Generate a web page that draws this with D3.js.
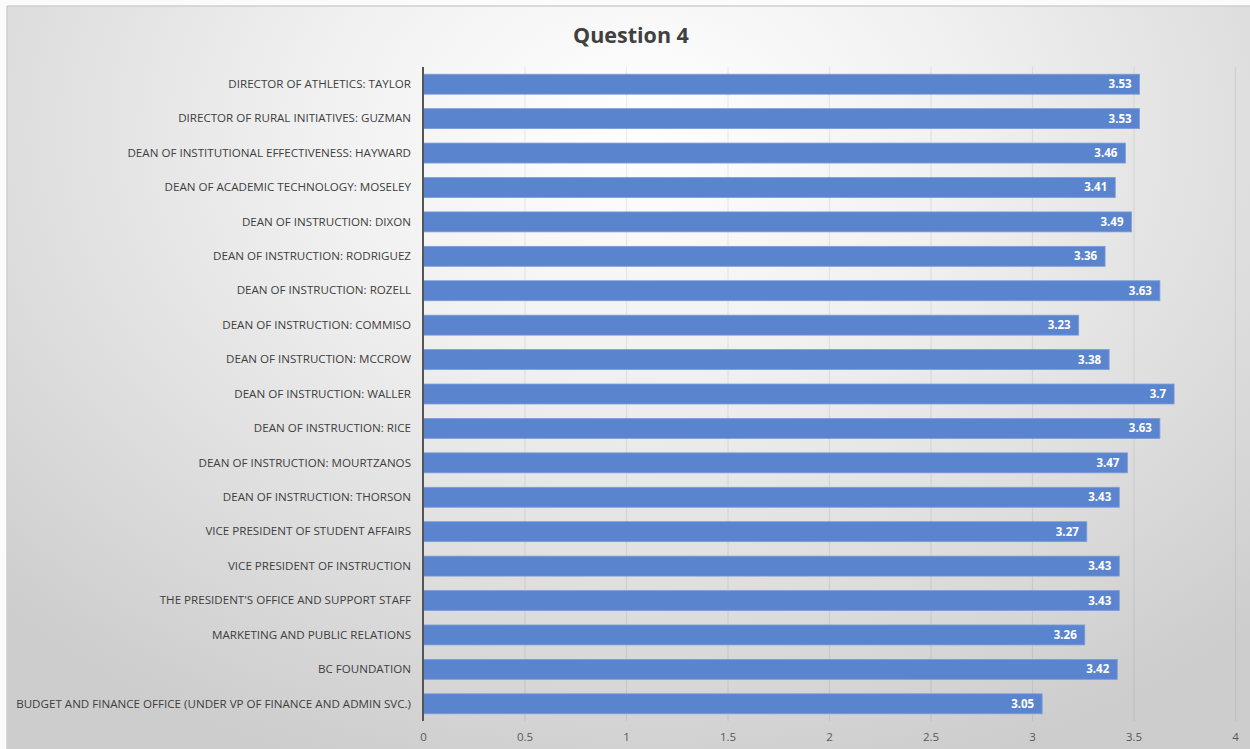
<!DOCTYPE html>
<html>
<head>
<meta charset="utf-8">
<script src="https://cdn.jsdelivr.net/npm/d3@7"></script>
<style>
html,body{margin:0;padding:0;background:#fff;}
svg{display:block;}
</style>
</head>
<body>
<svg id="chart" width="1250" height="749"></svg>
<script>
const categories = [
  "DIRECTOR OF ATHLETICS: TAYLOR",
  "DIRECTOR OF RURAL INITIATIVES: GUZMAN",
  "DEAN OF INSTITUTIONAL EFFECTIVENESS: HAYWARD",
  "DEAN OF ACADEMIC TECHNOLOGY: MOSELEY",
  "DEAN OF INSTRUCTION: DIXON",
  "DEAN OF INSTRUCTION: RODRIGUEZ",
  "DEAN OF INSTRUCTION: ROZELL",
  "DEAN OF INSTRUCTION: COMMISO",
  "DEAN OF INSTRUCTION: MCCROW",
  "DEAN OF INSTRUCTION: WALLER",
  "DEAN OF INSTRUCTION: RICE",
  "DEAN OF INSTRUCTION: MOURTZANOS",
  "DEAN OF INSTRUCTION: THORSON",
  "VICE PRESIDENT OF STUDENT AFFAIRS",
  "VICE PRESIDENT OF INSTRUCTION",
  "THE PRESIDENT'S OFFICE AND SUPPORT STAFF",
  "MARKETING AND PUBLIC RELATIONS",
  "BC FOUNDATION",
  "BUDGET AND FINANCE OFFICE (UNDER VP OF FINANCE AND ADMIN SVC.)"
];
const values = [3.53, 3.53, 3.46, 3.41, 3.49, 3.36, 3.63, 3.23, 3.38, 3.7, 3.63, 3.47, 3.43, 3.27, 3.43, 3.43, 3.26, 3.42, 3.05];
const xTicks = [0, 0.5, 1, 1.5, 2, 2.5, 3, 3.5, 4];
const xTickLabels = ["0", "0.5", "1", "1.5", "2", "2.5", "3", "3.5", "4"];
const title = "Question 4";

const W = 1250, H = 749;
const svg = d3.select("#chart");
const defs = svg.append("defs");

// background vignette
const rg = defs.append("radialGradient").attr("id", "bg")
  .attr("gradientUnits", "userSpaceOnUse")
  .attr("cx", 640).attr("cy", 130).attr("r", 900)
  .attr("gradientTransform", "translate(640,130) scale(1,0.75) translate(-640,-130)");
rg.append("stop").attr("offset", "0").attr("stop-color", "#ffffff");
rg.append("stop").attr("offset", "0.35").attr("stop-color", "#f1f1f1");
rg.append("stop").attr("offset", "1").attr("stop-color", "#cdcdcd");

const gg = defs.append("linearGradient").attr("id", "gridg")
  .attr("gradientUnits", "userSpaceOnUse")
  .attr("x1", 0).attr("y1", 66).attr("x2", 0).attr("y2", 722);
gg.append("stop").attr("offset", "0").attr("stop-color", "#000").attr("stop-opacity", 0.07);
gg.append("stop").attr("offset", "1").attr("stop-color", "#000").attr("stop-opacity", 0.22);

svg.append("rect").attr("x", 0).attr("y", 0).attr("width", W).attr("height", H).attr("fill", "#fbfbfb");
svg.append("rect").attr("x", 7).attr("y", 6).attr("width", W - 7).attr("height", H - 6).attr("fill", "url(#bg)");
svg.append("line").attr("x1", 7).attr("x2", W).attr("y1", 6).attr("y2", 6).attr("stroke", "#cfcfcf").attr("stroke-width", 1.5);
svg.append("line").attr("x1", 7).attr("x2", 7).attr("y1", 6).attr("y2", H).attr("stroke", "#cfcfcf").attr("stroke-width", 1.5);

const x = d3.scaleLinear().domain([0, 4]).range([423, 1235]);
const y = d3.scaleBand().domain(categories).range([67, 721]).paddingInner(0.42).paddingOuter(0.21);

// gridlines
const xAxisGrid = d3.axisBottom(x).tickValues(xTicks).tickSize(-(721 - 67)).tickFormat("");
const grid = svg.append("g").attr("transform", "translate(0,721)").call(xAxisGrid);
grid.select(".domain").remove();
grid.selectAll(".tick line").attr("stroke", "url(#gridg)").attr("stroke-width", 1.2);
grid.selectAll(".tick").filter(d => d === 0).remove();

// bars
svg.append("g").selectAll("rect").data(values).join("rect")
  .attr("x", x(0))
  .attr("y", (d, i) => y(categories[i]))
  .attr("width", d => x(d) - x(0))
  .attr("height", y.bandwidth())
  .attr("fill", "#5b84ce")
  .attr("stroke", "#7a9ddb")
  .attr("stroke-width", 0.8);

// value labels
svg.append("g").selectAll("text").data(values).join("text")
  .attr("x", d => x(d) - 8)
  .attr("y", (d, i) => y(categories[i]) + y.bandwidth() / 2)
  .attr("dy", "0.35em")
  .attr("text-anchor", "end")
  .attr("font-family", "'Open Sans', sans-serif")
  .attr("font-weight", "bold")
  .attr("font-size", 11.5)
  .attr("fill", "#ffffff")
  .text(d => String(d));

// y axis
const yAxis = d3.axisLeft(y).tickSize(0).tickPadding(12);
const ya = svg.append("g").attr("transform", `translate(${x(0)},0)`).call(yAxis);
ya.select(".domain").remove();
ya.selectAll("text")
  .attr("font-family", "'Open Sans', sans-serif")
  .attr("font-size", 11.6)
  .attr("fill", "#404040");
svg.append("line").attr("x1", x(0)).attr("x2", x(0)).attr("y1", 67).attr("y2", 721)
  .attr("stroke", "#555").attr("stroke-width", 2);

// x axis labels
const xAxis = d3.axisBottom(x).tickValues(xTicks).tickSize(0).tickPadding(11)
  .tickFormat((d, i) => xTickLabels[i]);
const xa = svg.append("g").attr("transform", "translate(0,722)").call(xAxis);
xa.select(".domain").remove();
xa.selectAll("text")
  .attr("font-family", "'Open Sans', sans-serif")
  .attr("font-size", 11.5)
  .attr("fill", "#595959");

// title
svg.append("text").attr("x", 631).attr("y", 43)
  .attr("text-anchor", "middle")
  .attr("font-family", "'Open Sans', sans-serif")
  .attr("font-weight", "bold")
  .attr("font-size", 21.5)
  .attr("fill", "#404040")
  .text(title);
</script>
</body>
</html>
